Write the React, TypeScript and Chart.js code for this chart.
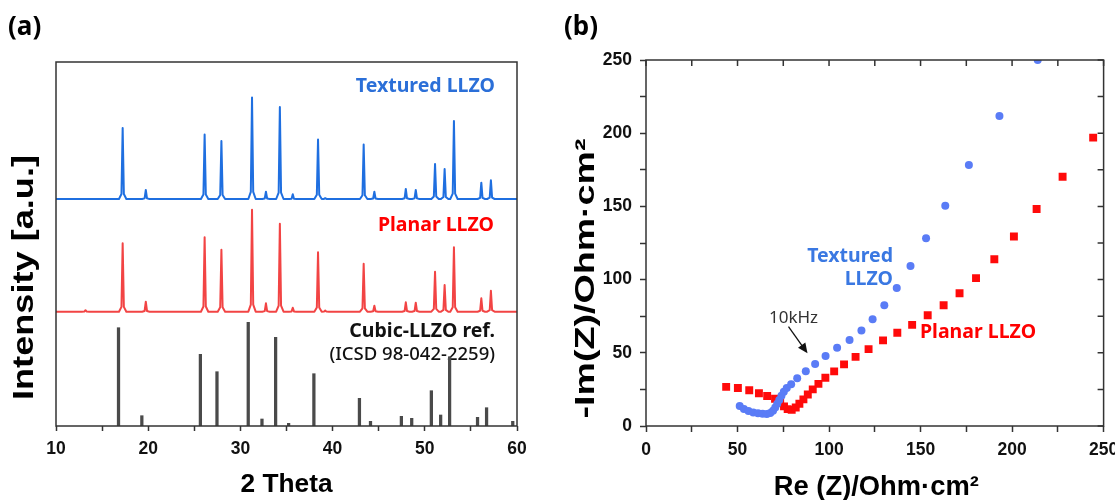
import React, { useEffect, useRef } from "react";
import { Chart, registerables } from "chart.js";

Chart.register(...registerables);
Chart.defaults.font.family = "'Liberation Sans', Arial, sans-serif";

// ---------- Panel (a): XRD ----------
const xrdRange = [10, 60];
const xrdPeakPositions = [13.2, 17.23, 19.74, 26.12, 27.94, 31.26, 32.77, 34.28, 35.68, 38.42, 39.2, 43.37, 44.53, 47.94, 49.02, 51.11, 52.15, 53.16, 56.13, 57.17];
const texturedPeakHeights = [0, 71, 9, 64.5, 58, 101.5, 7.3, 92, 4.7, 59.5, 0.8, 54.5, 7.3, 10, 9, 35, 30, 78, 16.3, 18.7];
const planarPeakHeights = [1.5, 68.5, 10, 74.5, 62, 102, 8.4, 88, 4, 59.5, 1.2, 48, 6, 9.4, 9, 40, 26.7, 64.5, 13.4, 21];
const texturedBaseline = 227;
const planarBaseline = 114.3;
const refStickPositions = [16.78, 19.31, 25.66, 27.46, 30.85, 32.34, 33.82, 35.23, 37.97, 42.91, 44.11, 47.46, 48.58, 50.71, 51.72, 52.69, 55.72, 56.7, 59.54];
const refStickHeights = [98.3, 10.3, 71.7, 54.3, 103.7, 7, 88.7, 2.7, 52.3, 27.7, 4.7, 9.7, 7.7, 35.3, 11, 69.3, 8.7, 18.3, 4.7];
const xrdTicks = [10, 20, 30, 40, 50, 60];

// ---------- Panel (b): Nyquist ----------
const texturedRe = [51.2, 53.5, 56.0, 58.6, 61.2, 63.7, 66.0, 67.9, 69.4, 70.6, 71.7, 72.8, 74.0, 75.3, 76.9, 79.3, 82.6, 87.3, 92.4, 98.1, 104.4, 111.2, 117.7, 123.8, 130.2, 137.0, 144.5, 153.0, 163.5, 176.4, 193.1, 214.0];
const texturedIm = [13.6, 11.6, 10.2, 9.3, 8.7, 8.3, 8.2, 8.8, 10.4, 12.7, 15.2, 17.8, 20.6, 23.4, 25.9, 28.6, 32.7, 37.4, 42.4, 47.8, 53.4, 58.7, 65.2, 72.9, 82.4, 94.2, 109.3, 128.2, 150.5, 178.3, 211.8, 250.0];
const planarRe = [43.8, 50.2, 56.4, 61.7, 66.2, 70.5, 73.3, 75.4, 77.4, 79.6, 81.8, 83.8, 86.0, 88.4, 91.1, 94.2, 98.0, 102.8, 108.2, 114.5, 121.6, 129.5, 137.3, 145.4, 153.9, 162.6, 171.3, 180.3, 190.3, 201.0, 213.4, 227.6, 244.3];
const planarIm = [26.7, 26.0, 24.4, 22.4, 20.5, 18.6, 16.0, 13.4, 11.5, 11.0, 12.6, 15.2, 18.2, 21.5, 25.0, 28.8, 32.9, 37.3, 42.1, 47.2, 52.5, 58.5, 63.7, 69.1, 75.7, 82.5, 90.7, 101.0, 113.9, 129.4, 148.2, 170.3, 197.0];
const eisRange = [0, 250];

function buildPattern(base: number, heights: number[]) {
  const pts: { x: number; y: number }[] = [{ x: xrdRange[0], y: base }];
  xrdPeakPositions.forEach((p, i) => {
    const h = heights[i];
    if (!h) return;
    pts.push(
      { x: p - 0.4, y: base },
      { x: p - 0.13, y: base + h * 0.07 },
      { x: p, y: base + h },
      { x: p + 0.13, y: base + h * 0.07 },
      { x: p + 0.4, y: base }
    );
  });
  pts.push({ x: xrdRange[1], y: base });
  return pts;
}

function txt(ctx: CanvasRenderingContext2D, s: string, x: number, y: number, font: string, color: string, align: CanvasTextAlign = "left") {
  ctx.save();
  ctx.font = font;
  ctx.fillStyle = color;
  ctx.textAlign = align;
  ctx.textBaseline = "alphabetic";
  ctx.fillText(s, x, y);
  ctx.restore();
}

function stretchedText(ctx: CanvasRenderingContext2D, s: string, cx: number, cy: number, font: string, target: number, rotated: boolean) {
  ctx.save();
  ctx.font = font;
  ctx.fillStyle = "#000";
  const w = ctx.measureText(s).width;
  const k = target / w;
  ctx.translate(cx, cy);
  if (rotated) ctx.rotate(-Math.PI / 2);
  ctx.scale(k, 1);
  ctx.textAlign = "center";
  ctx.textBaseline = "alphabetic";
  ctx.fillText(s, 0, 0);
  ctx.restore();
}

const ANN = "'Noto Sans', 'Liberation Sans', sans-serif";
const AX = "'Liberation Sans', Arial, sans-serif";

const frameA = {
  id: "frameA",
  beforeDatasetsDraw(chart: any) {
    const ctx = chart.ctx;
    txt(ctx, "Textured LLZO", 495, 92, `bold 19.5px ${ANN}`, "#2b6fd8", "right");
    txt(ctx, "Planar LLZO", 494, 231, `bold 19.5px ${ANN}`, "#ff0000", "right");
    txt(ctx, "Cubic-LLZO ref.", 495, 337, `bold 19.5px ${ANN}`, "#111", "right");
    txt(ctx, "(ICSD 98-042-2259)", 495, 359.5, `500 18.5px ${ANN}`, "#111", "right");
  },
  afterDatasetsDraw(chart: any) {
    const { ctx, chartArea: a } = chart;
    ctx.save();
    ctx.strokeStyle = "#333";
    ctx.lineWidth = 1.5;
    ctx.strokeRect(a.left, a.top, a.right - a.left, a.bottom - a.top);
    ctx.restore();
  },
  afterDraw(chart: any) {
    const { ctx, chartArea: a } = chart;
    txt(ctx, "(a)", 8, 35, `bold 26px ${ANN}`, "#000");
    stretchedText(ctx, "2 Theta", (a.left + a.right) / 2, 491.5, `bold 26px ${AX}`, 92, false);
    stretchedText(ctx, "Intensity [a.u.]", 32.5, 277.5, `bold 29px ${AX}`, 245, true);
  },
};

const frameB = {
  id: "frameB",
  beforeDatasetsDraw(chart: any) {
    const ctx = chart.ctx;
    txt(ctx, "Textured", 333, 261.5, `bold 19.5px ${ANN}`, "#3a78e2", "right");
    txt(ctx, "LLZO", 333, 285, `bold 19.5px ${ANN}`, "#3a78e2", "right");
    txt(ctx, "Planar LLZO", 360, 338, `bold 19.5px ${ANN}`, "#ff0000", "left");
    txt(ctx, "10kHz", 209, 323.3, `17px ${ANN}`, "#333", "left");
    // arrow
    const x1 = 228.5, y1 = 326.7, x2 = 247.5, y2 = 353.3;
    const ang = Math.atan2(y2 - y1, x2 - x1);
    ctx.save();
    ctx.strokeStyle = "#111";
    ctx.fillStyle = "#111";
    ctx.lineWidth = 1.3;
    ctx.beginPath();
    ctx.moveTo(x1, y1);
    ctx.lineTo(x2 - 7 * Math.cos(ang), y2 - 7 * Math.sin(ang));
    ctx.stroke();
    ctx.beginPath();
    ctx.moveTo(x2, y2);
    ctx.lineTo(x2 - 10 * Math.cos(ang) + 4.5 * Math.sin(ang), y2 - 10 * Math.sin(ang) - 4.5 * Math.cos(ang));
    ctx.lineTo(x2 - 10 * Math.cos(ang) - 4.5 * Math.sin(ang), y2 - 10 * Math.sin(ang) + 4.5 * Math.cos(ang));
    ctx.closePath();
    ctx.fill();
    ctx.restore();
  },
  afterDatasetsDraw(chart: any) {
    const { ctx, chartArea: a, scales } = chart;
    ctx.save();
    ctx.strokeStyle = "#333";
    ctx.lineWidth = 1.5;
    ctx.strokeRect(a.left, a.top, a.right - a.left, a.bottom - a.top);
    ctx.beginPath();
    scales.x.ticks.forEach((t: any) => {
      const px = scales.x.getPixelForValue(t.value);
      ctx.moveTo(px, a.top);
      ctx.lineTo(px, a.top + 6);
    });
    scales.y.ticks.forEach((t: any) => {
      const py = scales.y.getPixelForValue(t.value);
      ctx.moveTo(a.right, py);
      ctx.lineTo(a.right - 6, py);
    });
    ctx.stroke();
    ctx.restore();
  },
  afterDraw(chart: any) {
    const { ctx, chartArea: a } = chart;
    txt(ctx, "(b)", 4, 35, `bold 26px ${ANN}`, "#000");
    stretchedText(ctx, "Re (Z)/Ohm·cm²", (a.left + a.right) / 2 + 1.5, 495, `bold 27px ${AX}`, 205, false);
    stretchedText(ctx, "-Im(Z)/Ohm·cm²", 33.5, 278.5, `bold 27px ${AX}`, 280, true);
  },
};

const tickFont = { size: 17.5, weight: "bold" as const, family: AX };

export default function App() {
  const refA = useRef<HTMLCanvasElement>(null);
  const refB = useRef<HTMLCanvasElement>(null);

  useEffect(() => {
    const chartA = new Chart(refA.current as HTMLCanvasElement, {
      type: "line",
      data: {
        datasets: [
          {
            type: "line",
            label: "Textured LLZO",
            data: buildPattern(texturedBaseline, texturedPeakHeights),
            borderColor: "#1f6fe0",
            borderWidth: 2,
            pointRadius: 0,
            tension: 0,
            borderJoinStyle: "round",
          } as any,
          {
            type: "line",
            label: "Planar LLZO",
            data: buildPattern(planarBaseline, planarPeakHeights),
            borderColor: "#f24444",
            borderWidth: 2,
            pointRadius: 0,
            tension: 0,
            borderJoinStyle: "round",
          } as any,
          {
            type: "bar",
            label: "Cubic-LLZO ref.",
            data: refStickPositions.map((x, i) => ({ x, y: refStickHeights[i] })),
            backgroundColor: "#4a4a4a",
            borderWidth: 0,
            barThickness: 2.6,
            grouped: false,
          } as any,
        ],
      },
      options: {
        responsive: false,
        animation: false,
        events: [],
        layout: { autoPadding: false, padding: { left: 56, top: 62, right: 43, bottom: 0 } } as any,
        plugins: { legend: { display: false }, tooltip: { enabled: false } },
        scales: {
          x: {
            type: "linear",
            min: xrdRange[0],
            max: xrdRange[1],
            offset: false,
            ticks: {
              stepSize: 5,
              autoSkip: false,
              maxRotation: 0,
              padding: 8,
              color: "#111",
              font: tickFont,
              callback: (v: any) => (xrdTicks.includes(Number(v)) ? String(v) : ""),
            },
            grid: { display: true, offset: false, drawOnChartArea: false, drawTicks: true, tickLength: 5, tickColor: "#333", tickWidth: 1.5 },
            border: { display: false },
            afterFit: (s: any) => {
              s.height = 74;
              s.paddingLeft = 0;
              s.paddingRight = 0;
            },
          } as any,
          y: { type: "linear", display: false, min: 0, max: 364 },
        },
      },
      plugins: [frameA],
    });

    const chartB = new Chart(refB.current as HTMLCanvasElement, {
      type: "scatter",
      data: {
        datasets: [
          {
            label: "Textured LLZO",
            data: texturedRe.map((x, i) => ({ x, y: texturedIm[i] })),
            pointStyle: "circle",
            pointRadius: 4,
            backgroundColor: "#5a7cf6",
            borderWidth: 0,
            showLine: false,
          },
          {
            label: "Planar LLZO",
            data: planarRe.map((x, i) => ({ x, y: planarIm[i] })),
            pointStyle: "rect",
            pointRadius: 5.6,
            backgroundColor: "#ff0a0a",
            borderWidth: 0,
            showLine: false,
          },
        ],
      },
      options: {
        responsive: false,
        animation: false,
        events: [],
        layout: { autoPadding: false, padding: { left: 0, top: 60, right: 11.4, bottom: 0 } } as any,
        plugins: { legend: { display: false }, tooltip: { enabled: false } },
        scales: {
          x: {
            type: "linear",
            min: eisRange[0],
            max: eisRange[1],
            ticks: {
              stepSize: 25,
              autoSkip: false,
              maxRotation: 0,
              padding: 8,
              color: "#111",
              font: tickFont,
              callback: (v: any) => (Number(v) % 50 === 0 ? String(v) : ""),
            },
            grid: { display: true, drawOnChartArea: false, drawTicks: true, tickLength: 6, tickColor: "#333", tickWidth: 1.5 },
            border: { display: false },
            afterFit: (s: any) => {
              s.height = 74;
              s.paddingLeft = 0;
              s.paddingRight = 0;
            },
          } as any,
          y: {
            type: "linear",
            min: eisRange[0],
            max: eisRange[1],
            ticks: {
              stepSize: 25,
              autoSkip: false,
              padding: 8,
              color: "#111",
              font: tickFont,
              callback: (v: any) => (Number(v) % 50 === 0 ? String(v) : ""),
            },
            grid: { display: true, drawOnChartArea: false, drawTicks: true, tickLength: 6, tickColor: "#333", tickWidth: 1.5 },
            border: { display: false },
            afterFit: (s: any) => {
              s.width = 86;
              s.paddingTop = 0;
              s.paddingBottom = 0;
            },
          } as any,
        },
      },
      plugins: [frameB],
    });

    return () => {
      chartA.destroy();
      chartB.destroy();
    };
  }, []);

  return (
    <div style={{ position: "fixed", left: 0, top: 0, width: 1115, height: 500, overflow: "hidden", background: "#fff" }}>
      <canvas ref={refA} width={560} height={500} style={{ position: "absolute", left: 0, top: 0 }} />
      <canvas ref={refB} width={555} height={500} style={{ position: "absolute", left: 560, top: 0 }} />
    </div>
  );
}
